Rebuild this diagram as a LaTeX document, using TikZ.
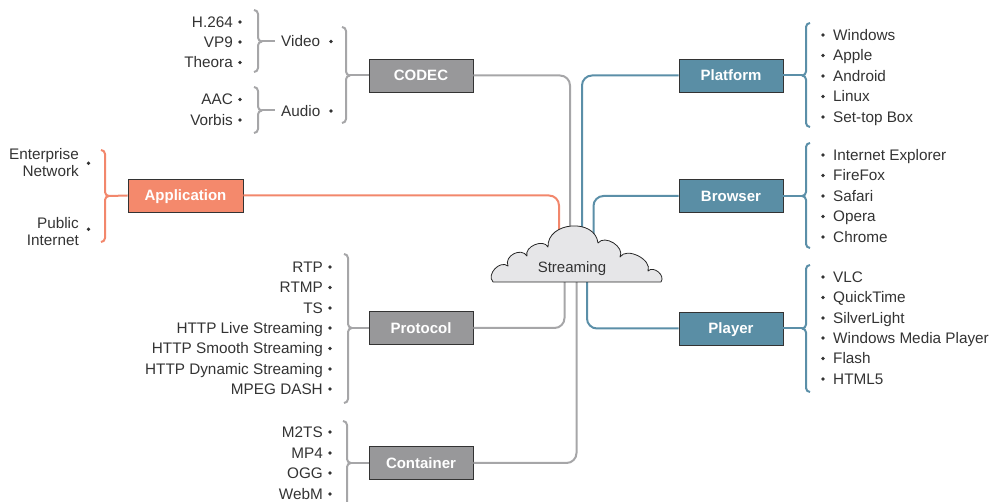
\documentclass[tikz,border=0pt]{standalone}
\usepackage{fontspec}
\setmainfont{Liberation Sans}
\definecolor{txt}{HTML}{333333}
\definecolor{gline}{HTML}{A6A6A8}
\definecolor{gbox}{HTML}{98989A}
\definecolor{oline}{HTML}{F2876C}
\definecolor{obox}{HTML}{F4896C}
\definecolor{bline}{HTML}{5B8FA8}
\definecolor{bbox}{HTML}{5A8EA5}
\definecolor{cloudfill}{HTML}{E6E6E8}
% "}" brace: X, top, bottom, middle, tip name
\newcommand{\mkRbrace}[5]{%
  \draw[brace] (#1-4,-#2) to[out=0,in=90] (#1,-#2-4) -- (#1,-#4+4) to[out=-90,in=180] (#1+4,-#4);
  \draw[brace] (#1+4,-#4) to[out=180,in=90] (#1,-#4-4) -- (#1,-#3+4) to[out=-90,in=0] (#1-4,-#3);
  \coordinate (#5) at (#1+4,-#4);}
% "{" brace
\newcommand{\mkLbrace}[5]{%
  \draw[brace] (#1+4,-#2) to[out=180,in=90] (#1,-#2-4) -- (#1,-#4+4) to[out=-90,in=0] (#1-4,-#4);
  \draw[brace] (#1-4,-#4) to[out=0,in=90] (#1,-#4-4) -- (#1,-#3+4) to[out=-90,in=180] (#1+4,-#3);
  \coordinate (#5) at (#1-4,-#4);}
\begin{document}
\begin{tikzpicture}[x=1pt,y=1pt,
  box/.style={draw=black!80, line width=0.8pt, minimum width=104pt, minimum height=33pt,
    inner sep=0pt, text height=11.5pt, text depth=0.8pt,
    font=\fontsize{15}{18}\selectfont\bfseries, text=white},
  item/.style={font=\fontsize{15.3}{17}\selectfont, text=txt, inner sep=0pt},
  conn/.style={line width=2pt, rounded corners=10pt},
  brace/.style={line width=2pt},
  bul/.style={fill=txt}]
\useasboundingbox (0,0) rectangle (991,-502);

% boxes
\node[box, fill=gbox] (codec) at (421,-75.5) {CODEC};
\node[box, fill=obox, minimum width=115pt] (app) at (185.5,-195.5) {Application};
\node[box, fill=gbox] (proto) at (421,-328) {Protocol};
\node[box, fill=gbox] (cont) at (421,-463) {Container};
\node[box, fill=bbox] (plat) at (731,-75.5) {Platform};
\node[box, fill=bbox] (brow) at (731,-196) {Browser};
\node[box, fill=bbox] (play) at (731,-328.5) {Player};

% entry points under the cloud
\coordinate (sApp) at (559,-255);
\coordinate (sCodec) at (570,-255);
\coordinate (sPlat) at (582,-255);
\coordinate (sBrow) at (593.5,-255);
\coordinate (sProto) at (564.5,-265);
\coordinate (sCont) at (576.5,-265);
\coordinate (sPlay) at (587,-265);

\draw[conn, oline] (app.east) -| (sApp);
\draw[conn, gline] (codec.east) -| (sCodec);
\draw[conn, bline] (plat.west) -| (sPlat);
\draw[conn, bline] (brow.west) -| (sBrow);
\draw[conn, gline] (proto.east) -| (sProto);
\draw[conn, gline] (cont.east) -| (sCont);
\draw[conn, bline] (play.west) -| (sPlay);

% cloud
\draw[fill=cloudfill, draw=black!85, line width=0.8pt, line join=round]
  (493,-282) to[bend left=85, looseness=1.2] (508,-266)
  to[bend left=85, looseness=1.3] (527,-256)
  to[bend left=85, looseness=1.1] (548,-247)
  to[bend left=88, looseness=1.3] (598,-243)
  to[bend left=85, looseness=1.1] (620,-257)
  to[bend left=85, looseness=1.0] (648,-271)
  to[bend left=85, looseness=1.2] (661,-282) -- cycle;
\node[item, font=\fontsize{15}{17}\selectfont, text height=11pt, text depth=0.5pt] (stream) at (572,-267.5) {Streaming};

% CODEC group
\begin{scope}[gline]
\mkRbrace{258}{10}{72}{41.5}{vTip}
\mkRbrace{258}{87}{133}{110.5}{aTip}
\mkRbrace{346}{27}{123}{75.5}{cTip}
\mkRbrace{348}{254}{403}{328}{pTip}
\mkRbrace{347}{421}{506}{463}{kTip}
\end{scope}
\draw[brace, gline] (cTip) -- (codec.west);
\draw[brace, gline] (pTip) -- (proto.west);
\draw[brace, gline] (kTip) -- (cont.west);

\foreach \t/\y [count=\i] in {H.264/22, VP9/42, Theora/62.5, AAC/99.5, Vorbis/120}{
  \node[item, anchor=base east] (ci\i) at (233,{-(\y+5.5)}) {\t};
  \fill[bul] (240,-\y) circle (1.8);}
\node[item, anchor=base west] (video) at (281,-47) {Video};
\fill[bul] (331,-41.5) circle (1.8);
\node[item, anchor=base west] (audio) at (281,-116.5) {Audio};
\fill[bul] (331,-111) circle (1.8);
\draw[brace, gline, shorten >=6pt] (vTip) -- (video.west |- vTip);
\draw[brace, gline, shorten >=6pt] (aTip) -- (audio.west |- aTip);

\foreach \t/\y [count=\i] in {RTP/267, RTMP/287.5, TS/308, HTTP Live Streaming/328,
   HTTP Smooth Streaming/348.5, HTTP Dynamic Streaming/369, MPEG DASH/389}{
  \node[item, anchor=base east] (pi\i) at (323,{-(\y+5.5)}) {\t};
  \fill[bul] (330,-\y) circle (1.8);}
\foreach \t/\y [count=\i] in {M2TS/432, MP4/453, OGG/473, WebM/494}{
  \node[item, anchor=base east] (ki\i) at (323,{-(\y+5.5)}) {\t};
  \fill[bul] (330,-\y) circle (1.8);}

% Application group
\begin{scope}[oline]
\mkRbrace{105}{150}{242}{196}{appTip}
\end{scope}
\draw[brace, oline] (appTip) -- (app.west);
\node[item, anchor=east, align=right] (ent) at (79,-163) {Enterprise\\Network};
\fill[bul] (88.5,-163.3) circle (1.8);
\node[item, anchor=east, align=right] (pub) at (79,-232) {Public\\Internet};
\fill[bul] (88.5,-229.3) circle (1.8);

% right groups
\begin{scope}[bline]
\mkLbrace{806}{23}{127}{75.5}{plTip}
\mkLbrace{806}{143}{248}{196}{brTip}
\mkLbrace{806}{265}{392}{328.5}{pyTip}
\end{scope}
\draw[brace, bline] (plat.east) -- (plTip);
\draw[brace, bline] (brow.east) -- (brTip);
\draw[brace, bline] (play.east) -- (pyTip);

\foreach \t/\y [count=\i] in {Windows/35, Apple/55.5, Android/76, Linux/96.5, Set-top Box/117}{
  \node[item, anchor=base west] (pl\i) at (833,{-(\y+5.5)}) {\t};
  \fill[bul] (823,-\y) circle (1.8);}
\foreach \t/\y [count=\i] in {Internet Explorer/155, FireFox/175.5, Safari/196, Opera/216.5, Chrome/237}{
  \node[item, anchor=base west] (br\i) at (833,{-(\y+5.5)}) {\t};
  \fill[bul] (823,-\y) circle (1.8);}
\foreach \t/\y [count=\i] in {VLC/277, QuickTime/297.5, SilverLight/318, Windows Media Player/338, Flash/358.5, HTML5/379}{
  \node[item, anchor=base west] (py\i) at (833,{-(\y+5.5)}) {\t};
  \fill[bul] (823,-\y) circle (1.8);}
\end{tikzpicture}
\end{document}
